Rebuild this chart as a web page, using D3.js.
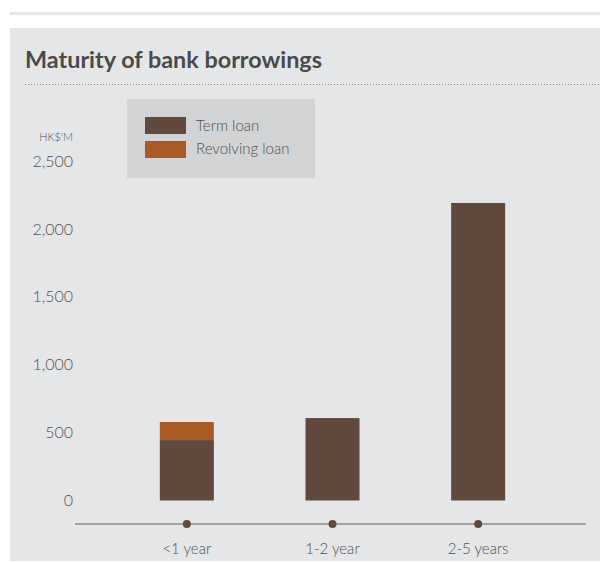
<!DOCTYPE html>
<html>
<head>
<meta charset="utf-8">
<script src="https://cdn.jsdelivr.net/npm/d3@7"></script>
<style>
  body { margin: 0; background: #fff; }
  svg { display: block; }
</style>
</head>
<body>
<div id="vis"></div>
<script>
// chart data
var categories = ["<1 year", "1-2 year", "2-5 years"];
var termLoan = [445, 607, 2191];
var revolvingLoan = [133, 0, 0];
var seriesNames = ["Term loan", "Revolving loan"];
var seriesColors = ["#614a3d", "#a95a25"];
var yTicks = [0, 500, 1000, 1500, 2000, 2500];

var width = 600, height = 563;

var svg = d3.select("#vis").append("svg")
  .attr("width", width)
  .attr("height", height);

// top rule
svg.append("rect")
  .attr("x", 10).attr("y", 12)
  .attr("width", width - 10).attr("height", 3)
  .attr("fill", "#e5e6e8");

// panel
svg.append("rect")
  .attr("x", 10).attr("y", 28)
  .attr("width", width - 10).attr("height", 533)
  .attr("fill", "#e5e6e8");

svg.append("text")
  .attr("x", 25).attr("y", 68)
  .attr("font-family", "Lato")
  .attr("font-weight", "bold")
  .attr("font-size", 23)
  .attr("fill", "#4a4a4a")
  .attr("textLength", 297)
  .attr("lengthAdjust", "spacingAndGlyphs")
  .text("Maturity of bank borrowings");

svg.append("line")
  .attr("x1", 25).attr("x2", width)
  .attr("y1", 84.5).attr("y2", 84.5)
  .attr("stroke", "#8a8a8a")
  .attr("stroke-width", 1)
  .attr("stroke-dasharray", "1,2");

// scales
var x = d3.scaleBand()
  .domain(categories)
  .range([114, 551])
  .paddingInner(0.629)
  .paddingOuter(0.3145);

var y = d3.scaleLinear()
  .domain([0, 2500])
  .range([500.5, 161]);

// legend
var lg = svg.append("g");
lg.append("rect")
  .attr("x", 127).attr("y", 99)
  .attr("width", 188).attr("height", 79)
  .attr("fill", "#d2d3d5");
seriesNames.forEach(function(name, i) {
  lg.append("rect")
    .attr("x", 145).attr("y", 117 + i * 24)
    .attr("width", 41).attr("height", 17)
    .attr("fill", seriesColors[i]);
  lg.append("text")
    .attr("x", 196).attr("y", 126 + i * 23)
    .attr("dy", "0.35em")
    .attr("font-family", "Lato")
    .attr("font-weight", 300)
    .attr("font-size", 15)
    .attr("fill", "#4f4f4f")
    .text(name);
});

// y axis labels
svg.append("text")
  .attr("x", 73).attr("y", 137)
  .attr("dy", "0.35em")
  .attr("text-anchor", "end")
  .attr("font-family", "Lato")
  .attr("font-weight", 300)
  .attr("font-size", 11)
  .attr("fill", "#505050")
  .text("HK$'M");

svg.append("g").selectAll("text")
  .data(yTicks)
  .join("text")
  .attr("x", 73)
  .attr("y", function(d) { return y(d); })
  .attr("dy", "0.35em")
  .attr("text-anchor", "end")
  .attr("font-family", "Lato")
  .attr("font-weight", 300)
  .attr("font-size", 16)
  .attr("fill", "#525252")
  .text(function(d) { return d3.format(",")(d); });

// stacked bars
var rows = categories.map(function(c, i) {
  return { cat: c, "Term loan": termLoan[i], "Revolving loan": revolvingLoan[i] };
});
var stacked = d3.stack().keys(seriesNames)(rows);

svg.append("g").selectAll("g")
  .data(stacked)
  .join("g")
  .attr("fill", function(d, i) { return seriesColors[i]; })
  .selectAll("rect")
  .data(function(d) { return d.filter(function(p) { return p[1] > p[0]; }); })
  .join("rect")
  .attr("x", function(d) { return x(d.data.cat); })
  .attr("width", x.bandwidth())
  .attr("y", function(d) { return y(d[1]); })
  .attr("height", function(d) { return y(d[0]) - y(d[1]); });

// bottom axis
svg.append("line")
  .attr("x1", 75).attr("x2", 586)
  .attr("y1", 524).attr("y2", 524)
  .attr("stroke", "#8c8c8c")
  .attr("stroke-width", 1.5);

svg.append("g").selectAll("circle")
  .data(categories)
  .join("circle")
  .attr("cx", function(d) { return x(d) + x.bandwidth() / 2; })
  .attr("cy", 524)
  .attr("r", 4)
  .attr("fill", "#614a3d");

svg.append("g").selectAll("text")
  .data(categories)
  .join("text")
  .attr("x", function(d) { return x(d) + x.bandwidth() / 2; })
  .attr("y", 549)
  .attr("dy", "0.35em")
  .attr("text-anchor", "middle")
  .attr("font-family", "Lato")
  .attr("font-weight", 300)
  .attr("font-size", 15)
  .attr("fill", "#4f4f4f")
  .text(function(d) { return d; });
</script>
</body>
</html>
